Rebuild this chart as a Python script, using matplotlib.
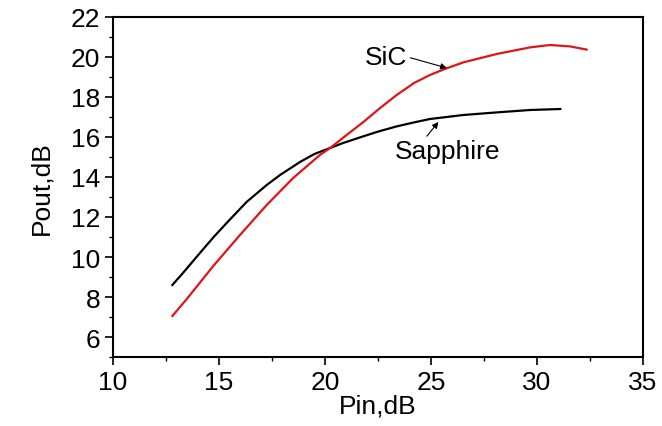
import matplotlib
matplotlib.use("Agg")
import matplotlib.pyplot as plt
from matplotlib.ticker import MultipleLocator

# Output power versus input power for two substrates
pin_sapphire = [12.8, 13.3, 14.1, 14.75, 15.36, 16.3, 17.25, 17.88, 18.82, 19.5, 20.24,
                20.8, 21.65, 22.5, 23.38, 24.2, 24.95, 26.52, 28.1, 29.67, 31.1]
pout_sapphire = [8.6, 9.2, 10.2, 11.0, 11.7, 12.75, 13.6, 14.1, 14.75, 15.15, 15.45,
                 15.68, 15.98, 16.27, 16.53, 16.73, 16.9, 17.1, 17.23, 17.35, 17.4]

pin_sic = [12.8, 13.48, 14.73, 15.99, 17.25, 18.5, 19.76, 20.24, 21.02, 21.81, 22.6,
           23.38, 24.2, 24.95, 25.7, 26.52, 28.1, 29.67, 30.61, 31.56, 32.34]
pout_sic = [7.05, 7.9, 9.55, 11.1, 12.6, 13.95, 15.1, 15.45, 16.1, 16.75, 17.45,
            18.1, 18.7, 19.1, 19.42, 19.73, 20.15, 20.48, 20.6, 20.53, 20.37]

x_ticks = [10, 15, 20, 25, 30, 35]
y_ticks = [6, 8, 10, 12, 14, 16, 18, 20, 22]

plt.rcParams['font.family'] = ['Liberation Sans', 'DejaVu Sans']

fig = plt.figure(figsize=(6.62, 4.27), dpi=100)
ax = fig.add_axes([113 / 662, 1 - 358 / 427, 530 / 662, 340 / 427])

ax.plot(pin_sapphire, pout_sapphire, color='black', lw=1.6)
ax.plot(pin_sic, pout_sic, color='#e01414', lw=1.6)

ax.set_xlim(10, 35)
ax.set_ylim(5, 22)
ax.set_xticks(x_ticks)
ax.set_yticks(y_ticks)
ax.xaxis.set_minor_locator(MultipleLocator(2.5))
ax.yaxis.set_minor_locator(MultipleLocator(1))
ax.tick_params(which='major', direction='out', length=6, width=1.2,
               labelsize=19, pad=3)
ax.tick_params(which='minor', direction='out', length=3, width=1.0)
for s in ax.spines.values():
    s.set_linewidth(1.5)

ax.set_xlabel('Pin,dB', fontsize=19, labelpad=0)
ax.set_ylabel('Pout,dB', fontsize=19, labelpad=13)

ax.annotate('SiC', xy=(25.75, 19.45), xytext=(22.9, 20.0),
            fontsize=19, ha='center', va='center',
            arrowprops=dict(arrowstyle='-|>', color='black', lw=0.8,
                            mutation_scale=9, shrinkA=0, shrinkB=0,
                            relpos=(1.0, 0.5)))
ax.annotate('Sapphire', xy=(25.35, 16.75), xytext=(25.8, 15.3),
            fontsize=19, ha='center', va='center',
            arrowprops=dict(arrowstyle='-|>', color='black', lw=0.8,
                            mutation_scale=9, shrinkA=0, shrinkB=0,
                            relpos=(0.25, 0.85)))

fig.savefig('out.png', dpi=100)
